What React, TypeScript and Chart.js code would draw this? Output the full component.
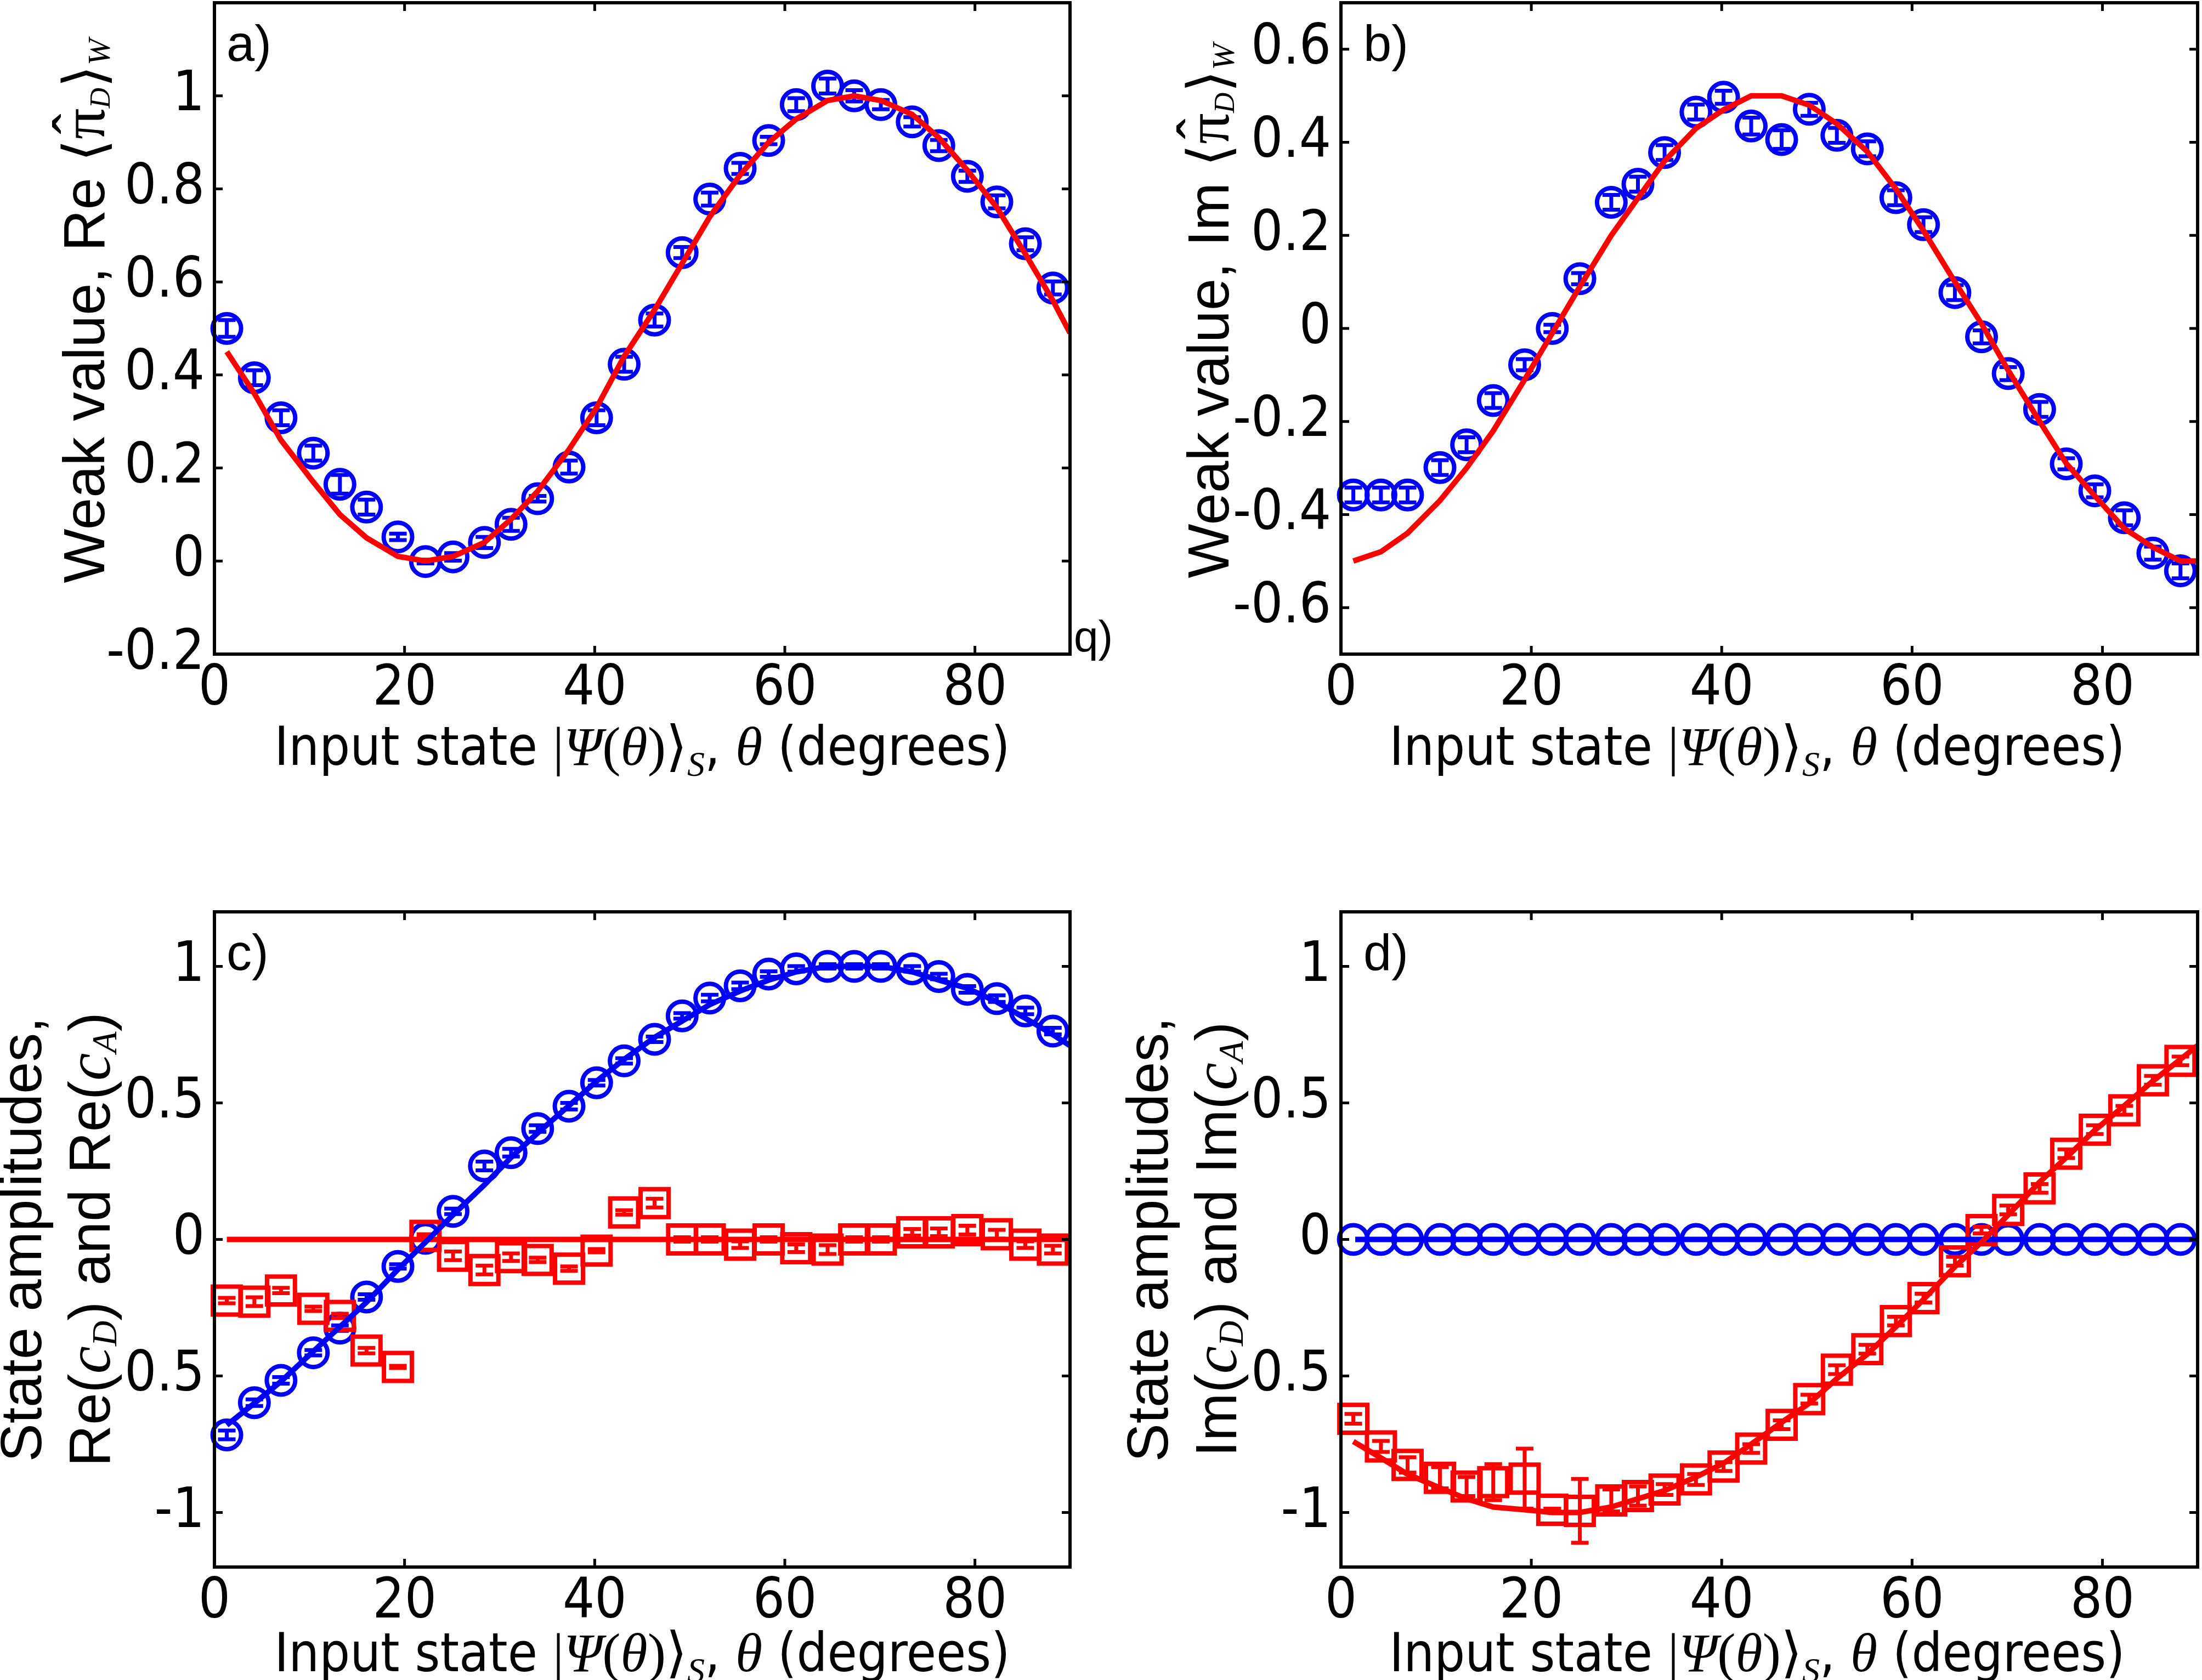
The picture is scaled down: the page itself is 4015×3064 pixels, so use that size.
import React, { useEffect, useRef } from 'react';
import { Chart, registerables } from 'chart.js';

Chart.register(...registerables);

// input angle of each measured point (degrees)
const theta = [1.3, 4.2, 7.0, 10.4, 13.2, 16.0, 19.3, 22.2, 25.1, 28.4, 31.2, 34.0, 37.3, 40.2, 43.1, 46.3, 49.2, 52.1, 55.3, 58.3, 61.2, 64.5, 67.3, 70.1, 73.4, 76.2, 79.2, 82.3, 85.3, 88.2];
const thetaCurve = [1.3, 4.2, 7.0, 10.4, 13.2, 16.0, 19.3, 22.2, 25.1, 28.4, 31.2, 34.0, 37.3, 40.2, 43.1, 46.3, 49.2, 52.1, 55.3, 58.3, 61.2, 64.5, 67.3, 70.1, 73.4, 76.2, 79.2, 82.3, 85.3, 88.2, 90];

// a) Re weak value
const reWeak = [0.50, 0.394, 0.308, 0.232, 0.165, 0.116, 0.052, -0.001, 0.009, 0.040, 0.079, 0.134, 0.202, 0.308, 0.423, 0.518, 0.663, 0.778, 0.844, 0.904, 0.981, 1.021, 1.0, 0.981, 0.944, 0.893, 0.827, 0.772, 0.682, 0.587];
const reWeakErr = [0.018, 0.016, 0.016, 0.016, 0.02, 0.016, 0.007, 0.004, 0.008, 0.012, 0.014, 0.006, 0.014, 0.016, 0.016, 0.014, 0.012, 0.014, 0.012, 0.008, 0.014, 0.016, 0.012, 0.01, 0.01, 0.012, 0.012, 0.014, 0.014, 0.014];
const reWeakTheory = [0.45, 0.36, 0.26, 0.17, 0.10, 0.05, 0.01, 0.0, 0.01, 0.04, 0.09, 0.15, 0.24, 0.33, 0.44, 0.54, 0.64, 0.74, 0.83, 0.90, 0.95, 0.99, 1.0, 0.99, 0.96, 0.91, 0.84, 0.76, 0.66, 0.56, 0.49];

// b) Im weak value
const imWeak = [-0.358, -0.358, -0.358, -0.299, -0.250, -0.155, -0.078, 0.0, 0.107, 0.271, 0.310, 0.378, 0.465, 0.497, 0.435, 0.406, 0.471, 0.415, 0.386, 0.281, 0.223, 0.077, -0.018, -0.097, -0.174, -0.291, -0.349, -0.407, -0.483, -0.521];
const imWeakErr = [0.016, 0.016, 0.016, 0.016, 0.016, 0.016, 0.012, 0.008, 0.012, 0.016, 0.016, 0.016, 0.016, 0.014, 0.018, 0.02, 0.014, 0.016, 0.016, 0.016, 0.016, 0.016, 0.014, 0.014, 0.016, 0.012, 0.014, 0.016, 0.014, 0.016];
const imWeakTheory = [-0.50, -0.48, -0.44, -0.37, -0.30, -0.22, -0.11, -0.01, 0.09, 0.20, 0.28, 0.36, 0.43, 0.47, 0.50, 0.50, 0.48, 0.44, 0.38, 0.30, 0.21, 0.10, 0.01, -0.09, -0.20, -0.29, -0.36, -0.43, -0.47, -0.50, -0.50];

// c) real parts of the state amplitudes
const reCD = [-0.716, -0.598, -0.516, -0.415, -0.325, -0.211, -0.099, 0.004, 0.103, 0.269, 0.318, 0.406, 0.488, 0.574, 0.654, 0.733, 0.819, 0.884, 0.929, 0.972, 0.991, 1.0, 1.0, 1.0, 0.991, 0.963, 0.916, 0.882, 0.837, 0.763];
const reCDErr = [0.016, 0.012, 0.012, 0.01, 0.01, 0.01, 0.008, 0.006, 0.01, 0.016, 0.014, 0.012, 0.012, 0.01, 0.01, 0.01, 0.01, 0.012, 0.012, 0.01, 0.01, 0.008, 0.008, 0.008, 0.01, 0.01, 0.012, 0.012, 0.012, 0.012];
const reCDTheory = [-0.68, -0.60, -0.52, -0.41, -0.32, -0.23, -0.11, -0.01, 0.09, 0.20, 0.30, 0.39, 0.49, 0.58, 0.66, 0.74, 0.80, 0.86, 0.91, 0.95, 0.98, 1.0, 1.0, 1.0, 0.98, 0.95, 0.92, 0.87, 0.81, 0.75, 0.71];
const reCA = [-0.224, -0.228, -0.187, -0.254, -0.280, -0.407, -0.467, 0.013, -0.06, -0.112, -0.065, -0.075, -0.107, -0.041, 0.099, 0.133, 0.0, 0.0, -0.019, 0.0, -0.032, -0.037, 0.0, 0.0, 0.026, 0.026, 0.034, 0.019, -0.019, -0.037];
const reCAErr = [0.01, 0.016, 0.01, 0.008, 0.008, 0.01, 0.004, 0.006, 0.016, 0.016, 0.014, 0.008, 0.008, 0.006, 0.008, 0.016, 0.008, 0.008, 0.012, 0.008, 0.014, 0.016, 0.008, 0.008, 0.012, 0.014, 0.016, 0.016, 0.012, 0.014];
const reCATheta = [1.3, 90];
const reCATheory = [0, 0];

// d) imaginary parts of the state amplitudes
const imCD = [0, 0, 0, 0, 0, 0, 0, 0, 0, 0, 0, 0, 0, 0, 0, 0, 0, 0, 0, 0, 0, 0, 0, 0, 0, 0, 0, 0, 0, 0];
const imCDTheta = [1.5, 90];
const imCDTheory = [0, 0];
const imCA = [-0.657, -0.758, -0.826, -0.873, -0.905, -0.889, -0.876, -0.99, -0.994, -0.956, -0.94, -0.916, -0.879, -0.832, -0.766, -0.679, -0.585, -0.477, -0.402, -0.299, -0.215, -0.080, 0.034, 0.108, 0.187, 0.314, 0.402, 0.473, 0.583, 0.654];
const imCAErr = [0.018, 0.02, 0.028, 0.039, 0.035, 0.066, 0.11, 0.004, 0.117, 0.04, 0.035, 0.02, 0.02, 0.016, 0.016, 0.016, 0.016, 0.016, 0.016, 0.016, 0.016, 0.016, 0.012, 0.016, 0.016, 0.016, 0.016, 0.016, 0.016, 0.016];
const imCATheory = [-0.74, -0.80, -0.86, -0.91, -0.95, -0.98, -0.99, -1.0, -1.0, -0.98, -0.95, -0.92, -0.87, -0.82, -0.75, -0.67, -0.60, -0.51, -0.42, -0.32, -0.22, -0.10, -0.01, 0.09, 0.21, 0.30, 0.40, 0.49, 0.58, 0.66, 0.71];

// axis ticks
const xTicks = [0, 20, 40, 60, 80];
const xTickLabels = ['0', '20', '40', '60', '80'];
const yTicksA = [-0.2, 0, 0.2, 0.4, 0.6, 0.8, 1];
const yTickLabelsA = ['-0.2', '0', '0.2', '0.4', '0.6', '0.8', '1'];
const yTicksB = [-0.6, -0.4, -0.2, 0, 0.2, 0.4, 0.6];
const yTickLabelsB = ['-0.6', '-0.4', '-0.2', '0', '0.2', '0.4', '0.6'];
const yTicksCD = [-1, -0.5, 0, 0.5, 1];
const yTickLabelsCD = ['-1', '0.5', '0', '0.5', '1'];

const BLUE = '#0000ff';
const RED = '#ff0000';
const NARROW = "'Liberation Sans Narrow', 'DejaVu Sans Condensed', 'Liberation Sans', sans-serif";
const SANS = "'Liberation Sans', Arial, sans-serif";
const SERIF = "'Liberation Serif', 'DejaVu Serif', serif";
const MATH = "'DejaVu Sans', 'Noto Sans', sans-serif";

type Seg = { t: string; f: string; dy?: number; dx?: number; over?: boolean };

const pts = (xs: number[], ys: number[]) => xs.map((x, i) => ({ x, y: ys[i] }));

function drawRich(ctx: CanvasRenderingContext2D, segs: Seg[], x: number, y: number, rotated: boolean) {
  ctx.save();
  ctx.translate(x, y);
  if (rotated) ctx.rotate(-Math.PI / 2);
  ctx.textAlign = 'left';
  ctx.textBaseline = 'alphabetic';
  ctx.fillStyle = '#000';
  let total = 0;
  const widths = segs.map((s) => {
    ctx.font = s.f;
    const w = ctx.measureText(s.t).width;
    if (!s.over) total += w + (s.dx || 0);
    return w;
  });
  let cur = -total / 2;
  let prevX = 0;
  let prevW = 0;
  segs.forEach((s, i) => {
    ctx.font = s.f;
    if (s.over) {
      ctx.fillText(s.t, prevX + prevW / 2 - widths[i] / 2 + (s.dx || 0), s.dy || 0);
      return;
    }
    cur += s.dx || 0;
    ctx.fillText(s.t, cur, s.dy || 0);
    prevX = cur;
    prevW = widths[i];
    cur += widths[i];
  });
  ctx.restore();
}

const xTitle: Seg[] = [
  { t: 'Input state ', f: `98px ${NARROW}` },
  { t: '|', f: `100px ${SERIF}` },
  { t: 'Ψ', f: `italic 100px ${SERIF}` },
  { t: '(', f: `100px ${SERIF}` },
  { t: 'θ', f: `italic 100px ${SERIF}` },
  { t: ')', f: `100px ${SERIF}` },
  { t: '⟩', f: `100px ${MATH}` },
  { t: 'S', f: `italic 64px ${SERIF}`, dy: 20 },
  { t: ', ', f: `98px ${NARROW}` },
  { t: 'θ', f: `italic 100px ${SERIF}` },
  { t: ' (degrees)', f: `98px ${NARROW}` },
];

const weakTitle = (part: string): Seg[] => [
  { t: `Weak value, ${part} `, f: `105px ${SANS}` },
  { t: '⟨', f: `105px ${MATH}` },
  { t: 'π', f: `112px ${SERIF}` },
  { t: 'ˆ', f: `112px ${SANS}`, over: true, dy: -14 },
  { t: 'D', f: `italic 52px ${SERIF}`, dy: 10 },
  { t: '⟩', f: `105px ${MATH}` },
  { t: 'W', f: `italic 58px ${SERIF}`, dy: 10 },
];

const ampTitle = (part: string): Seg[] => [
  { t: `${part}(`, f: `105px ${SANS}` },
  { t: 'c', f: `italic 114px ${SERIF}` },
  { t: 'D', f: `italic 64px ${SERIF}`, dy: 12 },
  { t: `) and ${part}(`, f: `105px ${SANS}` },
  { t: 'c', f: `italic 114px ${SERIF}` },
  { t: 'A', f: `italic 64px ${SERIF}`, dy: 12 },
  { t: ')', f: `105px ${SANS}` },
];

type Annot = {
  yLines: { segs: Seg[]; off: number }[];
  yShift: number; xOff: number; xShift: number;
  tag: string; tagDx: number; q?: boolean;
};

const annotPlugin = (spec: Annot) => ({
  id: 'annot',
  afterDraw(chart: any) {
    const { ctx, chartArea: a } = chart;
    const cx = (a.left + a.right) / 2 + spec.xShift;
    const cy = (a.top + a.bottom) / 2 + spec.yShift;
    drawRich(ctx, xTitle, cx, a.bottom + spec.xOff, false);
    spec.yLines.forEach((l) => drawRich(ctx, l.segs, a.left - l.off, cy, true));
    ctx.save();
    ctx.fillStyle = '#000';
    ctx.textAlign = 'left';
    ctx.textBaseline = 'alphabetic';
    ctx.font = `92px ${SANS}`;
    ctx.fillText(spec.tag, a.left + spec.tagDx, a.top + 106);
    if (spec.q) {
      ctx.font = `80px ${SANS}`;
      ctx.fillText('q)', a.right + 7, a.bottom - 5);
    }
    ctx.restore();
  },
});

// box round the axes with inward ticks on all four sides
const boxPlugin = {
  id: 'box',
  afterDraw(chart: any) {
    const { ctx, chartArea: a, scales } = chart;
    const len = 15;
    ctx.save();
    ctx.strokeStyle = '#000';
    ctx.lineWidth = 6;
    ctx.strokeRect(a.left, a.top, a.right - a.left, a.bottom - a.top);
    ctx.lineWidth = 5;
    ctx.beginPath();
    scales.x.ticks.forEach((t: any) => {
      const px = scales.x.getPixelForValue(t.value);
      if (px <= a.left + 2 || px >= a.right - 2) return;
      ctx.moveTo(px, a.bottom); ctx.lineTo(px, a.bottom - len);
      ctx.moveTo(px, a.top); ctx.lineTo(px, a.top + len);
    });
    scales.y.ticks.forEach((t: any) => {
      const py = scales.y.getPixelForValue(t.value);
      if (py <= a.top + 2 || py >= a.bottom - 2) return;
      ctx.moveTo(a.left, py); ctx.lineTo(a.left + len, py);
      ctx.moveTo(a.right, py); ctx.lineTo(a.right - len, py);
    });
    ctx.stroke();
    ctx.restore();
  },
};

const errorBarPlugin = {
  id: 'errorBars',
  afterDatasetDraw(chart: any, args: any) {
    const ds = chart.data.datasets[args.index];
    if (!ds.errors) return;
    const { ctx, scales } = chart;
    const half = 16;
    ctx.save();
    ctx.strokeStyle = ds.pointBorderColor;
    ctx.lineWidth = 7;
    ctx.beginPath();
    ds.data.forEach((p: any, i: number) => {
      const e = ds.errors[i];
      if (!e) return;
      const px = scales.x.getPixelForValue(p.x);
      const y1 = scales.y.getPixelForValue(p.y + e);
      const y2 = scales.y.getPixelForValue(p.y - e);
      ctx.moveTo(px, y1); ctx.lineTo(px, y2);
      ctx.moveTo(px - half, y1); ctx.lineTo(px + half, y1);
      ctx.moveTo(px - half, y2); ctx.lineTo(px + half, y2);
    });
    ctx.stroke();
    ctx.restore();
  },
};

const curve = (xs: number[], ys: number[], color: string, order: number) => ({
  data: pts(xs, ys),
  showLine: true,
  fill: false,
  tension: 0,
  borderColor: color,
  borderWidth: 10,
  pointRadius: 0,
  order,
});

const markers = (ys: number[], errs: number[] | null, color: string, style: string, order: number) => ({
  data: pts(theta, ys),
  showLine: false,
  pointStyle: style,
  pointRadius: style === 'rect' ? 36 : 26,
  pointBorderWidth: 8,
  pointBorderColor: color,
  pointBackgroundColor: 'rgba(0,0,0,0)',
  borderColor: color,
  backgroundColor: 'rgba(0,0,0,0)',
  errors: errs,
  clip: false,
  order,
});

type PanelSpec = {
  left: number; top: number; width: number; height: number;
  yWidth: number; padRight: number; padTop: number; xHeight: number;
  yMin: number; yMax: number; yTicks: number[]; yLabels: string[];
  datasets: any[]; annot: Annot;
};

const tickFont = { family: NARROW, size: 102 };

function buildConfig(p: PanelSpec): any {
  return {
    type: 'scatter',
    data: { datasets: p.datasets },
    options: {
      animation: false,
      responsive: false,
      events: [],
      layout: { autoPadding: false, padding: { left: 0, right: p.padRight, top: p.padTop, bottom: 0 } },
      plugins: { legend: { display: false }, tooltip: { enabled: false } },
      scales: {
        x: {
          type: 'linear', min: 0, max: 90,
          grid: { display: false, drawTicks: false },
          border: { display: false },
          ticks: {
            color: '#000', font: tickFont, padding: 4, maxRotation: 0, autoSkip: false,
            callback: (v: number) => xTickLabels[xTicks.indexOf(v)] ?? '',
          },
          afterBuildTicks: (s: any) => { s.ticks = xTicks.map((v) => ({ value: v })); },
          afterFit: (s: any) => {
            s.height = p.xHeight;
            s.paddingLeft = 0;
            s.paddingRight = 0;
          },
        },
        y: {
          type: 'linear', min: p.yMin, max: p.yMax,
          grid: { display: false, drawTicks: false },
          border: { display: false },
          ticks: {
            color: '#000', font: tickFont, padding: 18, autoSkip: false,
            callback: (v: number) => p.yLabels[p.yTicks.indexOf(v)] ?? '',
          },
          afterBuildTicks: (s: any) => { s.ticks = p.yTicks.map((v) => ({ value: v })); },
          afterFit: (s: any) => {
            s.width = p.yWidth;
            s.paddingTop = 0;
            s.paddingBottom = 0;
          },
        },
      },
    },
    plugins: [errorBarPlugin, boxPlugin, annotPlugin(p.annot)],
  };
}

const panels: PanelSpec[] = [
  {
    left: 0, top: 0, width: 2060, height: 1532,
    yWidth: 391, padRight: 109, padTop: 5, xHeight: 339,
    yMin: -0.2, yMax: 1.2, yTicks: yTicksA, yLabels: yTickLabelsA,
    datasets: [
      curve(thetaCurve, reWeakTheory, RED, 0),
      markers(reWeak, reWeakErr, BLUE, 'circle', 1),
    ],
    annot: { yLines: [{ segs: weakTitle('Re'), off: 201 }], yShift: -32, xOff: 202, xShift: 0, tag: 'a)', tagDx: 22, q: true },
  },
  {
    left: 2005, top: 0, width: 2010, height: 1532,
    yWidth: 440, padRight: 8, padTop: 5, xHeight: 339,
    yMin: -0.7, yMax: 0.7, yTicks: yTicksB, yLabels: yTickLabelsB,
    datasets: [
      curve(thetaCurve, imWeakTheory, RED, 0),
      markers(imWeak, imWeakErr, BLUE, 'circle', 1),
    ],
    annot: { yLines: [{ segs: weakTitle('Im'), off: 205 }], yShift: -32, xOff: 202, xShift: -22, tag: 'b)', tagDx: 41 },
  },
  {
    left: 0, top: 1532, width: 2060, height: 1532,
    yWidth: 391, padRight: 109, padTop: 131, xHeight: 206,
    yMin: -1.2, yMax: 1.2, yTicks: yTicksCD, yLabels: yTickLabelsCD,
    datasets: [
      curve(thetaCurve, reCDTheory, BLUE, 0),
      curve(reCATheta, reCATheory, RED, 1),
      markers(reCA, reCAErr, RED, 'rect', 2),
      markers(reCD, reCDErr, BLUE, 'circle', 3),
    ],
    annot: {
      yLines: [
        { segs: [{ t: 'State amplitudes,', f: `105px ${SANS}` }], off: 316 },
        { segs: ampTitle('Re'), off: 191 },
      ],
      yShift: 0, xOff: 190, xShift: 0, tag: 'c)', tagDx: 22,
    },
  },
  {
    left: 2005, top: 1532, width: 2010, height: 1532,
    yWidth: 440, padRight: 8, padTop: 131, xHeight: 206,
    yMin: -1.2, yMax: 1.2, yTicks: yTicksCD, yLabels: yTickLabelsCD,
    datasets: [
      curve(thetaCurve, imCATheory, RED, 0),
      curve(imCDTheta, imCDTheory, BLUE, 1),
      markers(imCA, imCAErr, RED, 'rect', 2),
      markers(imCD, null, BLUE, 'circle', 3),
    ],
    annot: {
      yLines: [
        { segs: [{ t: 'State amplitudes,', f: `105px ${SANS}` }], off: 316 },
        { segs: ampTitle('Im'), off: 191 },
      ],
      yShift: 0, xOff: 190, xShift: -22, tag: 'd)', tagDx: 41,
    },
  },
];

const Panel = ({ spec }: { spec: PanelSpec }) => {
  const canvasRef = useRef<HTMLCanvasElement>(null);
  const chartRef = useRef<Chart | null>(null);

  useEffect(() => {
    if (!canvasRef.current) return;
    if (chartRef.current) chartRef.current.destroy();
    chartRef.current = new Chart(canvasRef.current, buildConfig(spec));
    return () => {
      if (chartRef.current) {
        chartRef.current.destroy();
        chartRef.current = null;
      }
    };
  }, [spec]);

  return (
    <canvas
      ref={canvasRef}
      width={spec.width}
      height={spec.height}
      style={{ position: 'absolute', left: spec.left, top: spec.top, width: spec.width, height: spec.height }}
    />
  );
};

export default function App() {
  useEffect(() => {
    document.body.style.margin = '0';
  }, []);

  return (
    <div style={{ position: 'relative', width: 4015, height: 3064, background: '#fff', overflow: 'hidden' }}>
      {panels.map((p, i) => (
        <Panel key={i} spec={p} />
      ))}
    </div>
  );
}
